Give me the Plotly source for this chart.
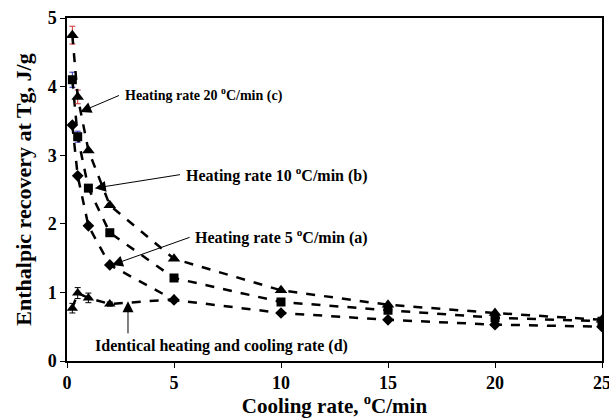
import plotly.graph_objects as go

cooling = [0.25, 0.5, 1, 2, 5, 10, 15, 20, 25]
rate_a = [3.44, 2.70, 1.97, 1.40, 0.89, 0.70, 0.60, 0.53, 0.50]
rate_b = [4.10, 3.27, 2.52, 1.87, 1.21, 0.86, 0.74, 0.63, 0.58]
rate_c = [4.75, 3.85, 3.07, 2.27, 1.49, 1.03, 0.82, 0.70, 0.60]
cooling_d = [0.25, 0.5, 1, 2, 5]
rate_d = [0.77, 0.99, 0.92, 0.83, 0.90]
err_c = [0.13, 0.10, 0, 0, 0, 0, 0, 0, 0]
err_b = [0.11, 0.08, 0, 0, 0, 0, 0, 0, 0]
err_d = [0.07, 0.08, 0.07, 0.03, 0]

FONT = "Liberation Serif"
fig = go.Figure()
line = dict(color="black", width=2.5, dash="dash")
fig.add_trace(go.Scatter(x=cooling, y=rate_a, mode="lines+markers", line=line,
                         marker=dict(symbol="diamond", size=9, color="black")))
fig.add_trace(go.Scatter(x=cooling, y=rate_b, mode="lines+markers", line=line,
                         marker=dict(symbol="square", size=9, color="black"),
                         error_y=dict(type="data", array=err_b, color="#3030c0", width=3, thickness=1)))
fig.add_trace(go.Scatter(x=cooling, y=rate_c, mode="lines+markers", line=line,
                         marker=dict(symbol="triangle-up", size=11, color="black"),
                         error_y=dict(type="data", array=err_c, color="#d03030", width=3, thickness=1)))
fig.add_trace(go.Scatter(x=cooling_d, y=rate_d, mode="lines+markers", line=line,
                         marker=dict(symbol="triangle-up", size=10, color="black"),
                         error_y=dict(type="data", array=err_d, color="black", width=3, thickness=1)))

labels = [
    ("Heating rate 20 <sup>o</sup>C/min (c)", 2.6, 3.88, 0.62, 3.63, 14),
    ("Heating rate 10 <sup>o</sup>C/min (b)", 5.45, 2.72, 1.3, 2.52, 16),
    ("Heating rate 5 <sup>o</sup>C/min (a)", 5.9, 1.81, 2.1, 1.40, 16),
]
for txt, tx, ty, px, py, fs in labels:
    fig.add_annotation(x=tx, y=ty, text=txt, showarrow=False, xanchor="left",
                       font=dict(family=FONT, size=fs, color="black", weight="bold"))
    fig.add_annotation(x=px, y=py, ax=tx - 0.1, ay=ty, axref="x", ayref="y", text="",
                       showarrow=True, arrowhead=2, arrowsize=2.2, arrowwidth=1, arrowcolor="black")

fig.add_annotation(x=1.2, y=0.22, text="Identical heating and cooling rate (d)", showarrow=False,
                   xanchor="left", font=dict(family=FONT, size=16, color="black", weight="bold"))
fig.add_annotation(x=2.85, y=0.87, ax=2.85, ay=0.38, axref="x", ayref="y", text="",
                   showarrow=True, arrowhead=2, arrowsize=2.2, arrowwidth=1, arrowcolor="black")

tickfont = dict(family=FONT, size=18, color="black", weight="bold")
fig.update_layout(
    width=609, height=418, showlegend=False,
    paper_bgcolor="white", plot_bgcolor="white",
    margin=dict(l=67, r=7, t=18, b=57),
    xaxis=dict(range=[0, 25], tickvals=[0, 5, 10, 15, 20, 25], showgrid=False, zeroline=False,
               showline=True, linecolor="black", linewidth=1.5, mirror=True, automargin=False,
               ticklabeloverflow="allow",
               ticks="outside", ticklen=5, tickcolor="black", tickfont=tickfont,
               title=dict(text="Cooling rate, <sup>o</sup>C/min", standoff=7,
                          font=dict(family=FONT, size=21, color="black", weight="bold"))),
    yaxis=dict(range=[0, 5], tickvals=[0, 1, 2, 3, 4, 5], showgrid=False, zeroline=False,
               showline=True, linecolor="black", linewidth=1.5, mirror=True, automargin=False,
               ticklabeloverflow="allow",
               ticks="outside", ticklen=5, tickcolor="black", tickfont=tickfont,
               title=dict(text="Enthalpic recovery at Tg, J/g", standoff=10,
                          font=dict(family=FONT, size=22, color="black", weight="bold"))),
)
fig.write_html("out.html")
